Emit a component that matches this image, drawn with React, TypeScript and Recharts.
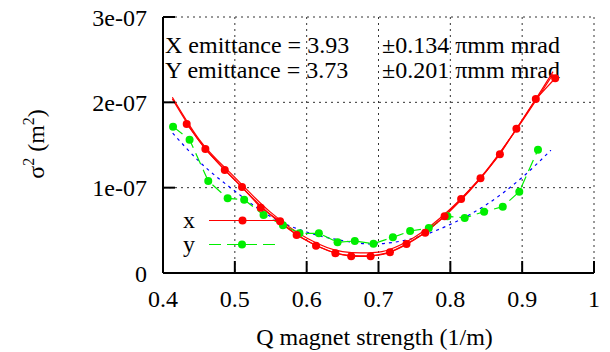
import React from 'react';
import { LineChart, Line, XAxis, YAxis, CartesianGrid, Legend, Customized, Label } from 'recharts';

const FONT = 'Liberation Serif, Tinos, DejaVu Serif, serif';

// measured x data (sigma^2 in units of 1e-7 m^2)
const xMeasQ = [0.433, 0.459, 0.486, 0.510, 0.536, 0.563, 0.586, 0.613, 0.640, 0.662, 0.689, 0.716, 0.739, 0.765, 0.792, 0.815, 0.842, 0.869, 0.892, 0.919, 0.946];
const xMeasS = [1.746, 1.453, 1.207, 1.008, 0.766, 0.606, 0.445, 0.320, 0.231, 0.196, 0.196, 0.243, 0.340, 0.472, 0.664, 0.867, 1.110, 1.391, 1.691, 2.039, 2.282];

// measured y data
const yMeasQ = [0.414, 0.437, 0.463, 0.490, 0.513, 0.540, 0.567, 0.590, 0.617, 0.643, 0.667, 0.693, 0.720, 0.744, 0.770, 0.796, 0.820, 0.847, 0.873, 0.896, 0.922];
const yMeasS = [1.715, 1.562, 1.078, 0.875, 0.859, 0.680, 0.559, 0.465, 0.465, 0.360, 0.375, 0.343, 0.418, 0.492, 0.527, 0.664, 0.645, 0.719, 0.777, 0.953, 1.445];

// x fit curves (two)
const xFitQ = [0.413, 0.45, 0.5, 0.55, 0.6, 0.65, 0.675, 0.7, 0.75, 0.8, 0.85, 0.9, 0.943];
const xFitA = [2.06, 1.57, 1.12, 0.71, 0.41, 0.25, 0.235, 0.245, 0.42, 0.75, 1.20, 1.78, 2.33];
const xFitB = [2.04, 1.55, 1.09, 0.68, 0.38, 0.215, 0.20, 0.21, 0.39, 0.73, 1.19, 1.79, 2.36];

// y fit curve
const yFitQ = [0.4135, 0.45, 0.5, 0.55, 0.6, 0.65, 0.69, 0.75, 0.8, 0.85, 0.9, 0.94];
const yFitS = [1.64, 1.31, 0.96, 0.66, 0.48, 0.38, 0.34, 0.41, 0.57, 0.80, 1.12, 1.44];

const xTicks = [0.4, 0.5, 0.6, 0.7, 0.8, 0.9, 1];
const xTickLabels = ['0.4', '0.5', '0.6', '0.7', '0.8', '0.9', '1'];
const yTicks = [0, 1e-7, 2e-7, 3e-7];
const yTickLabels = ['0', '1e-07', '2e-07', '3e-07'];

const annotLeft = ['X emittance = 3.93', 'Y emittance = 3.73'];
const annotRight = ['\u00b10.134 \u03c0mm mrad', '\u00b10.201 \u03c0mm mrad'];

const UNIT = 1e-7;
const build = (q: number[], s: number[]) => q.map((v, i) => ({ x: v, y: s[i] * UNIT }));

const xMeas = build(xMeasQ, xMeasS);
const yMeas = build(yMeasQ, yMeasS);
const xFitAData = build(xFitQ, xFitA);
const xFitBData = build(xFitQ, xFitB);
const yFitData = build(yFitQ, yFitS);

const RED = '#ff0000';
const GREEN = '#00ee00';
const BLUE = '#0000ff';

const txt = { fontFamily: FONT, fontSize: 24, fill: '#000' } as const;

const Annot = () => (
  <g>
    {annotLeft.map((t, i) => (
      <text key={'l' + i} x={165} y={53 + i * 25} style={txt}>{t}</text>
    ))}
    {annotRight.map((t, i) => (
      <text key={'r' + i} x={382} y={53 + i * 25} style={txt}>{t}</text>
    ))}
  </g>
);

const LegendBox = () => (
  <svg width={130} height={60} style={{ overflow: 'visible', display: 'block' }}>
    <text x={8} y={28} style={txt}>x</text>
    <line x1={34} x2={106} y1={20.5} y2={20.5} stroke={RED} strokeWidth={1.2} />
    <circle cx={67.5} cy={20.5} r={4} fill={RED} />
    <text x={8} y={52} style={txt}>y</text>
    <line x1={34} x2={103} y1={44.5} y2={44.5} stroke={GREEN} strokeWidth={1.2} strokeDasharray="12 6" />
    <circle cx={67} cy={44.5} r={4} fill={GREEN} />
  </svg>
);

const XLabel = (props: any) => {
  const vb = props.viewBox || {};
  return (
    <text x={vb.x + vb.width / 2 - 4} y={345} textAnchor="middle" style={txt}>
      Q magnet strength (1/m)
    </text>
  );
};

const YLabel = () => (
  <text transform="translate(44,144) rotate(-90)" textAnchor="middle" style={txt}>
    {'\u03c3'}
    <tspan fontSize={16} dy={-10}>2</tspan>
    <tspan dy={10}> (m</tspan>
    <tspan fontSize={16} dy={-10}>2</tspan>
    <tspan dy={10}>)</tspan>
  </text>
);

const axisStroke = { stroke: '#000', strokeWidth: 2 };

export default function App() {
  return (
    <div style={{ position: 'absolute', left: 0, top: 0, width: 610, height: 352, background: '#fff', fontFamily: FONT }}>
      <LineChart width={610} height={352} margin={{ top: 17, right: 16, bottom: 0, left: 0 }} style={{ fontFamily: FONT }}>
        <CartesianGrid stroke="#333" strokeDasharray="2 4" strokeWidth={1} />
        <XAxis xAxisId={0} type="number" dataKey="x" domain={[0.4, 1]} ticks={xTicks} allowDataOverflow
          height={79} tickSize={-12} tickMargin={29} axisLine={axisStroke} tickLine={axisStroke}
          tickFormatter={(v: number, i: number) => xTickLabels[i] ?? String(v)}
          tick={{ fontSize: 24, fontFamily: FONT, fill: '#000', style: { fontFamily: FONT } }} interval={0}>
          <Label content={<XLabel />} />
        </XAxis>
        <XAxis xAxisId="t" orientation="top" type="number" dataKey="x" domain={[0.4, 1]} ticks={xTicks}
          allowDataOverflow height={0} tickSize={-12} axisLine={axisStroke} tickLine={axisStroke}
          tick={false} interval={0} />
        <YAxis yAxisId={0} type="number" domain={[0, 3e-7]} ticks={yTicks} allowDataOverflow width={163}
          tickSize={-12} tickMargin={28} axisLine={axisStroke} tickLine={axisStroke}
          tickFormatter={(v: number, i: number) => yTickLabels[i] ?? String(v)}
          tick={{ fontSize: 24, fontFamily: FONT, fill: '#000', style: { fontFamily: FONT } }} interval={0} />
        <YAxis yAxisId="r" orientation="right" type="number" domain={[0, 3e-7]} ticks={yTicks}
          allowDataOverflow width={0} tickSize={-12} axisLine={axisStroke} tickLine={axisStroke}
          tick={false} interval={0} />
        <Line data={yFitData} dataKey="y" type="monotone" stroke={BLUE} strokeWidth={1.2}
          strokeDasharray="3 4" dot={false} isAnimationActive={false} xAxisId={0} yAxisId={0} />
        <Line data={xFitAData} dataKey="y" type="monotone" stroke={RED} strokeWidth={1.2}
          dot={false} isAnimationActive={false} xAxisId={0} yAxisId={0} />
        <Line data={xFitBData} dataKey="y" type="monotone" stroke={RED} strokeWidth={1.2}
          dot={false} isAnimationActive={false} xAxisId={0} yAxisId={0} />
        <Line data={yMeas} dataKey="y" type="linear" stroke={GREEN} strokeWidth={1.2}
          strokeDasharray="12 6" dot={{ r: 4, fill: GREEN, stroke: 'none' }}
          isAnimationActive={false} xAxisId={0} yAxisId={0} />
        <Line data={xMeas} dataKey="y" type="linear" stroke={RED} strokeWidth={1.2}
          dot={{ r: 4, fill: RED, stroke: 'none' }} isAnimationActive={false} xAxisId={0} yAxisId={0} />
        <Legend layout="vertical" verticalAlign="middle" align="center" content={<LegendBox />}
          wrapperStyle={{ position: 'absolute', left: 175, top: 200, width: 130, height: 60 }} />
        <Customized component={Annot} />
        <Customized component={YLabel} />
      </LineChart>
    </div>
  );
}
